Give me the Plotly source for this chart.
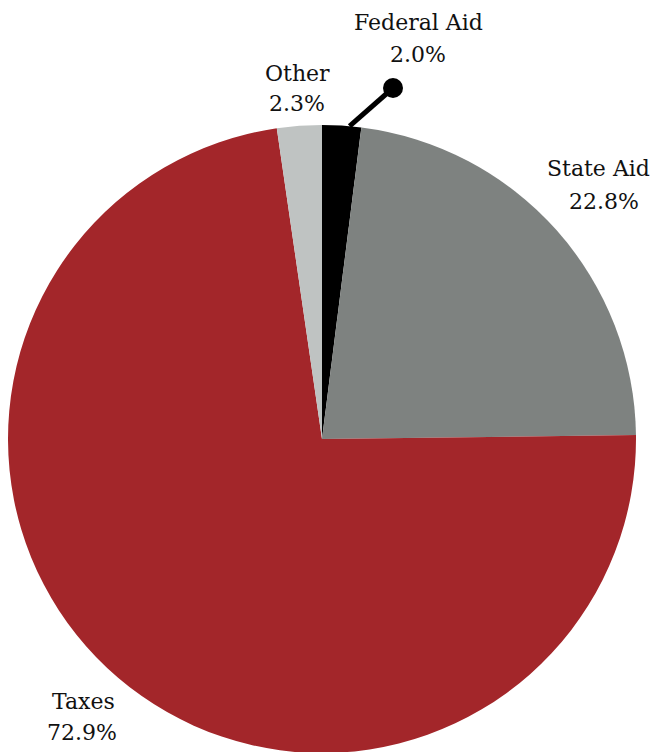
import math
import plotly.graph_objects as go

labels = ["Federal Aid", "State Aid", "Taxes", "Other"]
values = [2.0, 22.8, 72.9, 2.3]
pct_text = ["2.0%", "22.8%", "72.9%", "2.3%"]
colors = ["#000000", "#7e8280", "#a3262a", "#bfc3c2"]

OFF = 8  # page body margin
W, H = 652, 750
ML, MR, MT, MB = 0, 24, 117, 5
PW, PH = W - ML - MR, H - MT - MB

def px(x):
    return (x - OFF - ML) / PW

def py(y):
    return 1 - (y - OFF - MT) / PH

fig = go.Figure(go.Pie(
    labels=labels, values=values, sort=False, direction="clockwise",
    rotation=0, textinfo="none", hoverinfo="skip",
    marker=dict(colors=colors, line=dict(width=0)),
    showlegend=False,
))

font = dict(family="DejaVu Serif", size=22, color="#111111")
# label positions (page pixel centers): name x, name y, pct x, pct y
label_pos = {
    "Federal Aid": (418, 22, 418, 55),
    "Other": (297, 73, 297, 104),
    "State Aid": (598, 168, 604, 201),
    "Taxes": (83, 701, 82, 732),
}
anns = []
for lab, pct in zip(labels, pct_text):
    x1, y1, x2, y2 = label_pos[lab]
    for txt, xx, yy in ((lab, x1, y1), (pct, x2, y2)):
        anns.append(dict(text=txt, x=px(xx), y=py(yy), xref="paper", yref="paper",
                         xanchor="center", yanchor="middle", showarrow=False, font=font))

# leader line for Federal Aid
cx, cy = OFF + ML + PW / 2, OFF + MT + PH / 2
R = min(PW, PH) / 2
ang = math.radians(values[0] / sum(values) * 360 * 0.7)
sx, sy = cx + R * math.sin(ang), cy - R * math.cos(ang)
dx, dy = 393, 88
shapes = [
    dict(type="line", xref="paper", yref="paper", x0=px(sx), y0=py(sy), x1=px(dx), y1=py(dy),
         line=dict(color="#000000", width=5)),
    dict(type="circle", xref="paper", yref="paper", x0=px(dx - 10), x1=px(dx + 10),
         y0=py(dy + 10), y1=py(dy - 10), fillcolor="#000000", line=dict(width=0)),
]

fig.update_layout(width=W, height=H, margin=dict(l=ML, r=MR, t=MT, b=MB),
                  paper_bgcolor="white", plot_bgcolor="white",
                  annotations=anns, shapes=shapes)
fig.write_html("out.html")
